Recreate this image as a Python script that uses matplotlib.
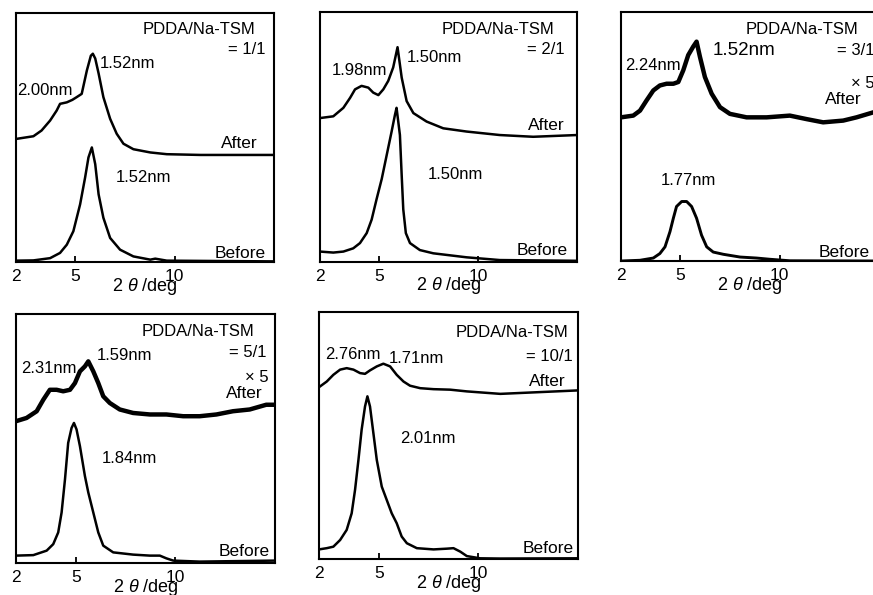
import matplotlib.pyplot as plt

plt.rcParams['font.family'] = ['Liberation Sans', 'DejaVu Sans']
plt.rcParams['mathtext.fontset'] = 'custom'
plt.rcParams['mathtext.rm'] = 'Liberation Sans'
plt.rcParams['mathtext.it'] = 'Liberation Sans:italic'

# XRD patterns: 2theta (deg), intensity (a.u., 0-100 per panel)
ratios = ['= 1/1', '= 2/1', '= 3/1', '= 5/1', '= 10/1']

tt_a1 = [2.0, 2.89, 3.3, 3.73, 4.06, 4.23, 4.57, 4.85, 5.07, 5.32, 5.58, 5.78, 5.88, 6.0, 6.17, 6.41, 6.75, 7.08, 7.42, 7.92, 8.77, 9.6, 11.3, 15.0]
int_a1 = [49.5, 50.6, 52.9, 56.9, 60.9, 63.6, 64.2, 65.2, 66.3, 67.6, 77.0, 82.9, 83.7, 81.8, 75.8, 66.3, 57.6, 51.6, 47.6, 45.4, 44.1, 43.4, 43.1, 43.1]
tt_b1 = [2.0, 2.89, 3.73, 4.23, 4.57, 4.90, 5.24, 5.49, 5.66, 5.83, 6.0, 6.17, 6.41, 6.75, 7.25, 7.92, 8.77, 9.02, 9.6, 15.0]
int_b1 = [0.7, 0.8, 1.7, 3.8, 7.1, 12.5, 23.3, 34.0, 42.1, 46.1, 39.4, 27.3, 17.9, 9.8, 5.1, 2.4, 1.1, 1.5, 0.7, 0.4]

tt_a2 = [2.0, 2.67, 3.18, 3.52, 3.77, 4.10, 4.44, 4.69, 4.95, 5.20, 5.45, 5.70, 5.92, 6.13, 6.38, 6.72, 7.39, 8.23, 9.41, 11.09, 12.78, 15.0]
int_a2 = [57.6, 58.3, 61.7, 65.7, 69.1, 70.5, 69.8, 67.8, 66.8, 69.1, 72.5, 77.9, 86.0, 73.8, 64.4, 59.6, 56.2, 53.5, 52.2, 50.8, 50.1, 50.8]
tt_b2 = [2.0, 2.67, 3.18, 3.68, 4.02, 4.36, 4.61, 4.86, 5.12, 5.37, 5.62, 5.79, 5.87, 6.04, 6.13, 6.21, 6.34, 6.55, 7.05, 7.73, 9.41, 11.09, 15.0]
int_b2 = [4.1, 3.7, 4.1, 5.4, 7.5, 11.5, 16.9, 25.1, 33.2, 42.7, 52.2, 58.9, 61.7, 50.8, 34.6, 21.0, 11.5, 7.5, 4.7, 3.4, 1.8, 0.7, 0.4]

tt_a3 = [2.0, 2.62, 2.96, 3.29, 3.63, 3.96, 4.30, 4.64, 4.89, 5.14, 5.39, 5.64, 5.81, 5.98, 6.23, 6.57, 6.99, 7.49, 8.33, 9.34, 10.51, 11.35, 12.19, 13.20, 13.87, 14.71, 15.0]
int_a3 = [57.7, 58.4, 60.4, 64.5, 68.5, 70.5, 71.2, 71.2, 71.9, 76.6, 82.7, 86.1, 88.1, 82.0, 73.9, 67.2, 61.8, 59.1, 57.7, 57.7, 58.4, 57.0, 55.7, 56.4, 57.7, 59.7, 60.0]
tt_b3 = [2.0, 2.96, 3.63, 3.96, 4.22, 4.47, 4.64, 4.80, 5.06, 5.31, 5.56, 5.81, 6.06, 6.32, 6.65, 7.16, 8.0, 8.83, 9.51, 10.51, 15.0]
int_b3 = [0.0, 0.3, 1.2, 3.0, 5.7, 11.8, 17.2, 21.9, 23.9, 23.9, 21.9, 17.2, 10.4, 5.7, 3.6, 2.7, 1.6, 1.2, 0.7, 0.1, 0.0]

tt_a4 = [2.0, 2.53, 3.04, 3.37, 3.70, 4.04, 4.37, 4.71, 4.96, 5.21, 5.46, 5.63, 5.88, 6.13, 6.38, 6.71, 7.21, 7.88, 8.72, 9.55, 10.39, 11.22, 12.06, 12.89, 13.73, 14.56, 15.0]
int_a4 = [57.0, 58.3, 61.0, 65.6, 69.6, 69.6, 69.0, 69.6, 72.3, 77.0, 79.0, 81.0, 77.0, 72.3, 67.0, 64.3, 61.7, 60.3, 59.7, 59.7, 59.0, 59.0, 59.7, 61.0, 61.7, 63.6, 63.6]
tt_b4 = [2.0, 2.87, 3.54, 3.87, 4.12, 4.29, 4.46, 4.62, 4.79, 4.91, 5.04, 5.21, 5.46, 5.63, 5.88, 6.13, 6.38, 6.88, 7.88, 8.72, 9.22, 9.55, 9.89, 11.22, 15.0]
int_b4 = [3.1, 3.3, 5.1, 7.7, 12.4, 20.4, 33.7, 48.3, 54.3, 56.3, 53.7, 47.0, 35.0, 28.4, 20.4, 12.4, 7.1, 4.4, 3.5, 3.1, 3.1, 2.0, 1.1, 0.7, 1.1]

tt_a5 = [2.0, 2.39, 2.72, 3.06, 3.39, 3.73, 4.06, 4.31, 4.56, 4.90, 5.23, 5.57, 5.90, 6.24, 6.57, 7.08, 7.75, 8.58, 9.42, 11.10, 12.77, 15.0]
int_a5 = [69.6, 71.9, 74.6, 76.7, 77.3, 76.7, 75.3, 75.0, 76.4, 78.0, 79.1, 78.0, 74.6, 71.9, 70.2, 69.2, 68.8, 68.6, 67.9, 66.9, 67.5, 68.3]
tt_b5 = [2.0, 2.39, 2.72, 3.06, 3.39, 3.64, 3.81, 3.98, 4.14, 4.31, 4.43, 4.56, 4.73, 4.90, 5.15, 5.40, 5.65, 5.90, 6.15, 6.41, 6.91, 7.75, 8.42, 8.75, 9.09, 9.42, 10.09, 11.10, 15.0]
int_b5 = [4.0, 4.5, 5.1, 7.8, 11.9, 18.6, 28.1, 40.2, 52.4, 61.8, 65.9, 61.8, 51.0, 40.2, 29.4, 24.0, 18.6, 14.6, 9.2, 6.5, 4.5, 4.0, 4.3, 4.5, 3.1, 1.3, 0.4, 0.3, 0.4]

after = [(tt_a1, int_a1), (tt_a2, int_a2), (tt_a3, int_a3), (tt_a4, int_a4), (tt_a5, int_a5)]
before = [(tt_b1, int_b1), (tt_b2, int_b2), (tt_b3, int_b3), (tt_b4, int_b4), (tt_b5, int_b5)]
noisy = [False, False, True, True, False]

# d-spacing labels: (text, x, y, size) in axes fraction
peak_labels = [
    [('2.00nm', 0.005, 0.69, 12), ('1.52nm', 0.327, 0.798, 12), ('1.52nm', 0.389, 0.339, 12)],
    [('1.98nm', 0.045, 0.766, 12), ('1.50nm', 0.339, 0.817, 12), ('1.50nm', 0.418, 0.350, 12)],
    [('2.24nm', 0.016, 0.786, 12), ('1.52nm', 0.355, 0.845, 13.5), ('1.77nm', 0.155, 0.324, 12)],
    [('2.31nm', 0.019, 0.780, 12), ('1.59nm', 0.311, 0.832, 12), ('1.84nm', 0.330, 0.419, 12)],
    [('2.76nm', 0.023, 0.827, 12), ('1.71nm', 0.268, 0.811, 12), ('2.01nm', 0.313, 0.487, 12)],
]
title_pos = [(0.927, 0.935), (0.913, 0.931), (0.920, 0.931), (0.922, 0.929), (0.964, 0.919)]
ratio_pos = [(0.966, 0.855), (0.952, 0.850), (0.982, 0.847), (0.967, 0.846), (0.981, 0.820)]
after_pos = [(0.936, 0.476), (0.952, 0.546), (0.933, 0.647), (0.954, 0.683), (0.951, 0.719)]
before_pos = [(0.966, 0.036), (0.965, 0.045), (0.965, 0.036), (0.979, 0.048), (0.983, 0.045)]
x5_pos = [None, None, (0.985, 0.712), (0.977, 0.747), None]

axes_rects = [
    [0.018, 0.559, 0.296, 0.419],
    [0.3666, 0.560, 0.2944, 0.4194],
    [0.7113, 0.5613, 0.2955, 0.4185],
    [0.0183, 0.0532, 0.2967, 0.4191],
    [0.3654, 0.0600, 0.2967, 0.4156],
]

fig = plt.figure(figsize=(8.73, 5.95), dpi=100)

for i in range(5):
    ax = fig.add_axes(axes_rects[i])
    ax.plot(after[i][0], after[i][1], color='black', lw=3.2 if noisy[i] else 1.8)
    ax.plot(before[i][0], before[i][1], color='black', lw=2.1 if i == 2 else 1.8)
    ax.set_xlim(2, 15)
    ax.set_ylim(0, 100)
    ax.set_xticks([2, 5, 10])
    ax.set_xticklabels(['2', '5', '10'])
    ax.set_yticks([])
    ax.tick_params(axis='x', direction='in', length=4.5, width=1.3, labelsize=12.5, pad=5)
    for s in ax.spines.values():
        s.set_linewidth(1.5)
    ax.set_xlabel('2 $\\theta$ /deg', fontsize=13, labelpad=-6)

    ax.text(*title_pos[i], 'PDDA/Na-TSM', transform=ax.transAxes, ha='right', va='center', fontsize=12)
    ax.text(*ratio_pos[i], ratios[i], transform=ax.transAxes, ha='right', va='center', fontsize=12)
    ax.text(*after_pos[i], 'After', transform=ax.transAxes, ha='right', va='center', fontsize=12.5)
    ax.text(*before_pos[i], 'Before', transform=ax.transAxes, ha='right', va='center', fontsize=12.5)
    if x5_pos[i] is not None:
        ax.text(*x5_pos[i], '× 5', transform=ax.transAxes, ha='right', va='center', fontsize=12)
    for txt, fx, fy, fs in peak_labels[i]:
        ax.text(fx, fy, txt, transform=ax.transAxes, ha='left', va='center', fontsize=fs)

fig.savefig('out.png', dpi=100)
